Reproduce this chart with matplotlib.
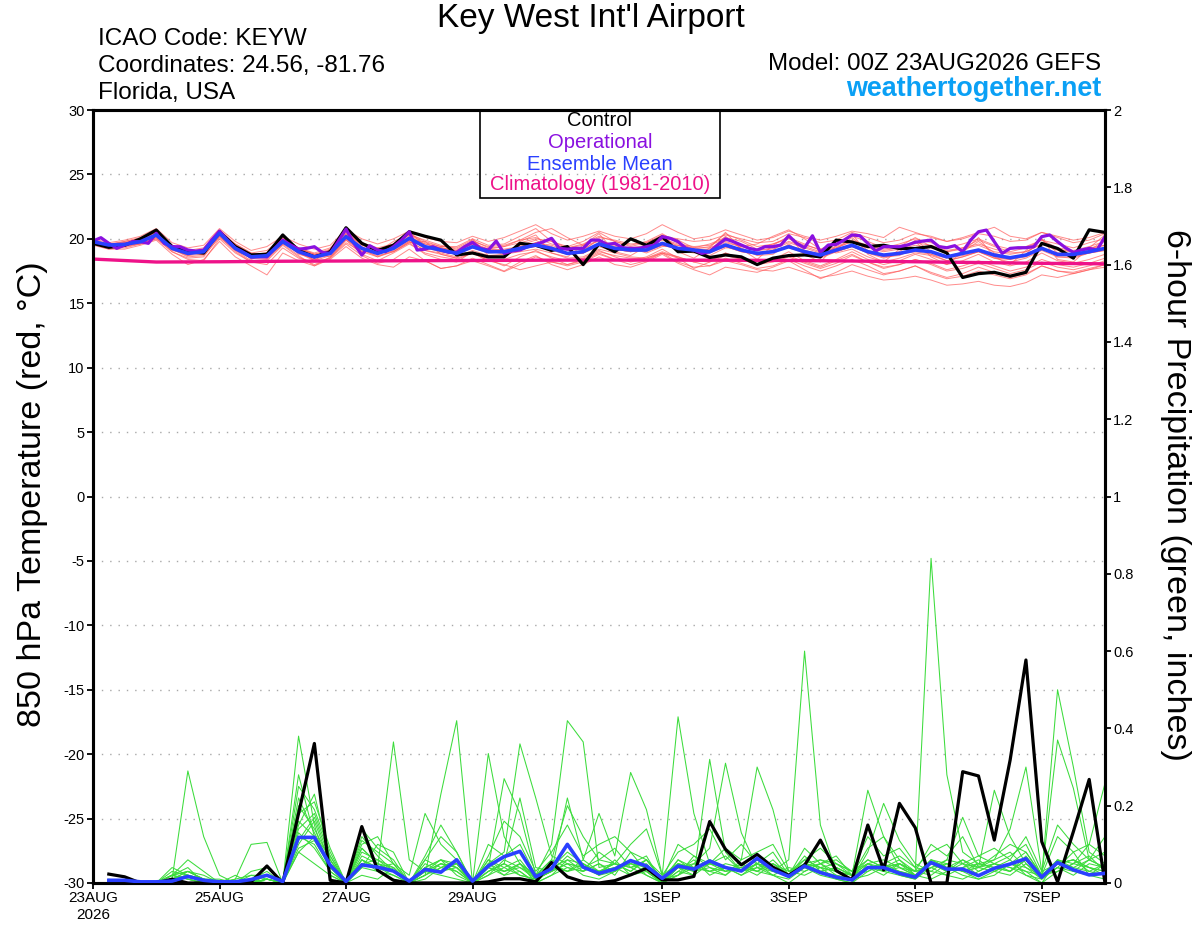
import numpy as np
import matplotlib
matplotlib.use("Agg")
import matplotlib.pyplot as plt
from matplotlib.patches import Rectangle

plt.rcParams['font.family'] = ['Liberation Sans', 'DejaVu Sans']


def vals(s):
    return [float(v) for v in s.split()]


# ---------------- data ----------------
hours_t = np.arange(0, 385, 6)      # temperature, 6-hourly
hours_op = np.arange(0, 385, 3)     # operational, 3-hourly
hours_p = np.arange(6, 385, 6)      # 6-hour precipitation
clim_hours = np.arange(0, 385, 24)  # daily climatology

xtick_hours = [0, 48, 96, 144, 216, 264, 312, 360]
xtick_labels = ["23AUG\n2026", "25AUG", "27AUG", "29AUG", "1SEP", "3SEP", "5SEP", "7SEP"]

control_temp = vals("""
19.65 19.34 19.5 20.0 20.68 19.4 19.0 18.9
20.55 19.4 18.75 18.8 20.3 19.1 18.6 19.0
20.86 19.65 19.1 19.5 20.55 20.2 19.9 18.75
18.9 18.6 18.6 19.65 19.5 19.1 19.4 18.0
19.6 19.0 20.0 19.5 20.15 19.0 19.05 18.55
18.75 18.6 18.0 18.5 18.7 18.75 18.6 19.9
19.75 19.4 19.5 19.25 19.25 19.4 18.9 17.0
17.3 17.4 17.1 17.4 19.65 19.25 18.5 20.7
20.5""")

operational_temp = vals("""
19.83 20.09 19.65 19.26 19.52 19.78 19.78 19.65 20.43 19.65 19.39 19.39 19.13 19.05 19.13 19.9
20.6 19.9 19.26 18.95 18.6 18.6 18.6 19.26 19.9 19.52 19.2 19.26 19.39 18.95 18.87 19.78
20.76 19.65 18.74 19.47 19.13 19.0 19.39 19.9 20.55 19.13 19.2 19.39 19.13 18.95 18.95 19.39
19.73 19.26 19.13 19.83 18.87 19.05 19.13 19.39 19.57 19.78 20.04 19.26 19.2 19.26 19.26 19.9
19.9 19.57 19.65 19.31 19.26 19.26 19.39 19.52 20.17 20.04 19.78 19.26 19.13 18.87 19.0 19.52
19.99 19.78 19.52 19.26 19.13 19.39 19.39 19.52 20.24 19.65 19.31 20.24 18.95 19.52 19.57 19.9
20.3 20.24 19.65 19.05 19.39 19.39 19.39 19.52 19.73 19.83 19.9 19.39 19.31 19.47 19.0 19.9
20.55 20.68 19.78 18.87 19.26 19.31 19.31 19.39 20.17 20.3 19.78 19.31 18.95 19.13 19.26 19.13
20.17""")

mean_temp = vals("""
19.78 19.52 19.57 19.78 20.3 19.26 18.87 19.0
20.43 19.26 18.6 18.69 19.78 19.0 18.6 18.87
20.17 19.26 18.87 19.26 20.04 19.39 19.13 18.87
19.39 19.0 19.0 19.26 19.52 19.26 18.87 19.0
19.6 19.26 19.13 19.13 19.65 19.26 19.13 19.0
19.52 19.13 18.87 19.0 19.39 19.0 18.74 19.13
19.5 19.0 18.74 18.87 19.13 19.0 18.6 18.87
19.13 18.74 18.53 18.74 19.26 18.79 18.79 19.0
19.26""")

climatology_temp = vals("18.43 18.2 18.22 18.26 18.28 18.3 18.32 18.34 18.35 18.35 18.34 18.32 18.28 18.22 18.16 18.1 18.06")

member_temps = [vals(s) for s in [
    """19.9 19.4 19.7 20.0 20.5 19.2 18.7 19.1 20.6 19.5 18.4 18.9 20.1 19.2 18.3 19.2
       20.5 19.6 19.0 19.8 20.3 19.9 19.5 19.2 19.8 19.4 19.5 19.9 20.1 19.6 19.3 19.6
       20.2 19.8 19.4 19.7 20.3 19.9 19.3 19.6 20.1 19.8 19.2 19.6 20.0 19.5 19.2 19.7
       20.2 19.8 19.3 19.6 20.0 19.7 19.3 19.6 20.0 19.5 19.2 19.4 19.9 19.6 19.3 19.7 20.0""",
    """19.6 19.3 19.3 19.6 20.1 19.0 18.5 18.6 20.2 19.0 18.2 18.3 19.5 18.6 18.0 18.5
       19.9 18.8 18.3 18.9 19.6 18.9 18.6 18.4 18.9 18.3 18.4 18.8 19.0 18.6 18.3 18.5
       19.1 18.6 18.2 18.5 19.0 18.6 18.2 18.3 18.9 18.4 18.0 18.3 18.7 18.2 17.8 18.3
       18.8 18.2 17.7 18.0 18.4 18.1 17.6 17.9 18.3 17.9 17.5 17.8 18.4 18.0 17.8 18.1 18.5""",
    """19.7 19.6 19.5 19.9 20.4 19.4 19.0 18.8 20.3 19.6 18.9 18.5 19.6 19.3 18.8 18.6
       20.0 19.0 19.3 19.0 19.7 19.8 18.8 18.5 20.0 18.7 18.6 19.8 20.3 18.9 18.6 19.5
       20.4 19.0 18.7 19.4 20.2 19.0 18.5 19.3 20.5 19.2 18.4 19.5 20.2 18.8 18.2 19.5
       20.4 18.8 18.2 19.2 19.8 18.6 18.0 19.0 20.1 18.6 18.0 19.1 20.0 18.4 18.2 19.3 20.3""",
    """19.5 19.2 19.4 19.7 20.2 19.1 18.8 18.9 20.3 19.1 18.5 18.6 19.7 18.9 18.4 18.8
       20.0 19.2 18.6 19.1 19.8 19.1 18.9 18.6 19.1 18.7 18.8 19.0 19.2 18.9 18.5 18.6
       19.2 18.9 18.6 18.5 18.9 18.6 18.2 17.9 18.3 18.0 17.6 17.5 17.8 17.4 17.0 17.2
       17.5 17.1 16.8 16.9 17.1 16.8 16.4 16.5 16.7 16.4 16.3 16.6 17.2 17.0 17.3 17.6 17.8""",
    """19.9 19.6 19.8 20.1 20.6 19.5 19.1 19.3 20.7 19.6 18.9 19.1 20.1 19.3 18.9 19.3
       20.6 19.7 19.3 19.6 20.4 19.8 19.4 19.3 19.9 19.3 19.4 19.7 20.0 19.8 19.3 19.5
       20.1 19.9 19.6 19.7 20.2 20.0 19.8 19.9 20.3 20.0 19.7 19.8 20.4 20.1 19.7 19.9
       20.5 20.1 19.7 19.9 20.4 20.2 19.8 20.0 20.4 20.2 19.8 19.9 20.5 20.1 19.7 19.9 20.4""",
    """19.8 19.4 19.6 19.7 20.1 19.4 19.0 18.9 20.2 19.2 18.7 18.8 19.9 18.8 18.5 19.0
       20.1 19.4 18.8 19.4 20.1 19.2 19.3 19.0 19.6 19.1 18.8 19.2 19.7 19.4 18.8 18.9
       19.4 19.0 19.3 18.9 19.4 19.5 19.0 18.7 19.3 19.3 18.7 18.8 19.6 18.8 18.5 19.0
       19.4 18.9 18.6 18.7 19.3 18.8 18.3 18.6 19.0 18.5 18.4 18.8 19.4 18.6 18.5 18.9 19.1""",
    """19.7 19.5 19.5 19.6 20.0 19.2 18.6 18.7 20.1 19.1 18.3 18.4 19.6 18.7 17.9 18.6
       19.7 19.0 18.6 19.0 19.7 18.8 18.4 18.2 19.0 18.4 17.9 18.6 19.1 18.5 18.0 18.3
       18.9 18.4 18.3 18.6 19.2 18.5 17.7 18.2 18.9 18.5 18.1 18.4 19.0 18.3 17.9 18.4
       19.0 18.4 18.0 18.3 18.8 18.4 18.0 18.3 18.8 18.2 17.9 18.2 18.9 18.3 18.1 18.4 18.8""",
    """19.9 19.6 19.7 19.9 20.4 19.4 18.9 19.1 20.5 19.4 18.7 18.9 20.0 19.1 18.7 19.0
       20.3 19.5 19.1 19.5 20.2 19.6 19.3 19.1 19.7 19.2 19.4 19.9 20.5 20.8 20.1 19.5
       19.8 19.4 19.3 19.5 20.0 19.6 19.4 19.5 20.0 19.5 19.1 19.3 19.8 19.4 19.0 19.3
       19.8 19.4 19.1 19.3 19.7 19.5 19.1 19.3 19.6 19.2 18.9 19.0 19.6 19.2 19.0 19.2 19.5""",
    """19.6 19.5 19.5 19.8 20.2 19.3 18.9 18.9 20.4 19.2 18.6 18.6 19.7 19.0 18.7 18.9
       20.1 19.3 18.9 19.2 19.9 19.3 19.0 18.8 19.3 19.0 19.1 19.2 19.4 19.2 18.8 18.9
       19.5 19.3 19.2 19.0 19.5 19.2 19.0 18.9 19.4 19.0 18.8 19.1 19.3 18.9 18.6 19.0
       19.4 18.9 18.5 18.8 19.0 18.8 18.5 18.7 19.0 18.5 18.2 18.5 19.1 18.6 18.6 18.9 19.2""",
    """19.7 19.4 19.5 19.7 20.2 19.2 18.7 18.8 20.3 19.3 18.5 18.5 19.7 18.9 18.3 18.7
       19.9 19.1 18.7 19.0 19.8 19.1 18.8 18.5 18.9 18.3 18.0 17.6 17.9 18.2 18.0 18.4
       19.0 18.7 18.5 18.4 18.9 18.5 18.3 18.2 18.7 18.4 18.0 18.2 18.6 18.1 17.7 18.1
       18.7 18.2 17.8 18.0 18.4 18.0 17.5 17.7 18.1 17.7 17.3 17.6 18.2 17.8 17.6 17.9 18.3""",
    """19.8 19.6 19.6 19.9 20.3 19.5 19.0 19.2 20.5 19.5 18.8 18.9 19.9 19.2 18.8 19.1
       20.3 19.6 19.2 19.4 20.1 19.6 19.3 19.1 19.6 19.2 19.1 19.4 19.7 19.5 19.1 19.2
       19.9 19.5 19.2 19.4 19.9 19.5 19.3 19.3 19.8 19.4 19.1 19.2 19.7 19.3 18.9 19.3
       19.8 19.3 19.0 19.2 19.5 19.3 19.0 19.2 19.5 19.0 18.8 19.0 19.6 19.1 19.0 19.3 19.5""",
    """19.8 19.5 19.8 20.0 20.7 19.3 19.0 19.1 20.6 19.3 18.7 18.8 20.3 19.1 18.6 18.9
       20.4 19.3 19.0 19.4 20.6 19.4 19.2 19.0 19.6 19.1 19.0 19.5 19.9 19.2 18.9 19.1
       20.0 19.2 19.0 19.2 20.3 19.3 19.0 19.1 20.2 19.2 18.8 19.1 20.1 19.1 18.8 19.2
       20.1 19.1 18.7 19.0 19.9 19.0 18.6 19.0 19.8 18.9 18.5 18.8 20.0 18.9 18.7 19.1 19.9""",
    """19.7 19.4 19.6 19.8 20.2 19.3 18.8 19.0 20.4 19.2 18.6 18.7 19.8 19.0 18.7 18.8
       20.1 19.2 18.8 19.2 19.9 19.4 19.0 18.8 19.4 19.1 19.2 19.4 19.6 19.1 18.8 19.0
       19.6 19.2 19.0 19.3 19.7 19.1 18.9 19.0 19.4 19.0 18.8 19.0 19.5 19.1 18.8 19.0
       19.4 19.0 18.6 18.8 19.2 19.0 18.6 18.8 19.2 18.8 18.5 18.7 19.3 18.9 18.8 19.0 19.2""",
    """19.8 19.5 19.5 19.8 20.3 19.3 18.9 19.0 20.4 19.3 18.7 18.7 19.8 19.0 18.6 18.9
       20.2 19.3 18.9 19.3 20.0 19.4 19.1 18.9 19.3 18.9 19.0 19.3 19.4 19.3 18.9 18.9
       19.6 19.2 19.0 19.1 19.5 19.3 19.1 19.2 19.7 19.4 19.6 20.2 20.7 20.0 19.2 18.9
       19.2 18.6 18.2 18.5 18.9 18.7 18.3 18.6 19.0 18.6 18.4 18.6 19.2 18.8 18.7 18.9 19.1""",
    """19.6 19.2 19.2 19.5 19.9 18.8 18.0 18.4 19.8 18.6 17.9 17.2 18.9 18.3 17.9 18.4
       19.4 18.5 18.0 17.8 18.6 18.3 17.7 17.9 18.5 18.0 17.5 18.2 18.7 18.0 17.6 18.0
       18.6 18.0 17.8 18.2 18.8 18.1 17.6 17.2 17.8 17.6 17.4 17.8 18.3 17.6 16.9 17.4
       18.0 17.6 17.2 17.5 17.9 17.4 17.0 17.3 17.8 17.4 17.0 17.3 17.9 17.5 17.4 17.7 18.0""",
    """20.0 19.7 19.9 20.2 20.8 19.7 19.3 19.5 20.8 19.8 19.1 19.4 20.2 19.6 19.2 19.5
       20.7 20.0 19.6 20.0 20.6 20.1 19.8 19.7 20.2 19.8 20.1 20.6 21.1 20.4 19.9 20.2
       20.6 20.2 20.0 20.4 21.1 20.5 20.0 20.2 20.7 20.3 19.9 20.1 20.6 20.2 19.9 20.2
       20.6 20.4 20.1 20.9 20.5 20.1 19.8 20.1 20.5 20.9 20.2 20.0 20.5 20.2 19.9 20.1 20.5""",
    """19.7 19.3 19.4 19.6 20.0 19.0 18.4 18.3 20.0 18.9 18.2 18.0 19.3 18.5 18.2 18.5
       19.6 18.7 18.1 18.4 19.2 18.3 17.7 17.9 18.3 17.9 17.45 18.0 18.6 18.2 17.9 18.2
       18.8 18.4 18.0 18.3 18.9 18.2 17.8 17.9 18.5 18.1 17.7 17.9 18.4 17.9 17.5 17.9
       18.4 17.9 17.3 17.5 17.9 17.3 16.9 17.1 17.5 17.2 16.9 17.2 17.9 17.5 17.3 17.6 18.0""",
    """19.8 19.5 19.7 19.9 20.5 19.2 18.9 18.8 20.5 19.4 18.8 18.9 20.0 19.3 18.8 19.2
       20.4 19.6 19.0 19.6 20.3 19.7 19.4 19.4 20.0 19.5 19.6 20.2 20.8 19.8 19.4 19.8
       20.5 19.8 19.5 19.8 20.4 19.7 19.2 19.4 20.4 19.9 19.4 19.6 20.1 19.6 19.1 19.4
       19.9 19.5 19.2 19.4 20.1 19.4 19.0 19.3 19.9 19.4 19.0 19.3 19.9 19.3 19.1 19.4 19.8""",
]]

control_precip = vals("""
0.023 0.016 0 0 0.01 0 0 0.003
0 0.003 0.044 0 0.18 0.361 0.007 0
0.146 0.033 0.007 0 0 0 0 0
0.003 0.011 0.011 0.003 0.053 0.016 0.003 0
0.006 0.021 0.038 0.008 0.008 0.017 0.159 0.087
0.047 0.074 0.041 0.020 0.046 0.111 0.032 0.008
0.150 0.034 0.206 0.143 0 0 0.288 0.277
0.111 0.318 0.577 0.107 0.003 0.133 0.268 0""")

mean_precip = vals("""
0.007 0.007 0.003 0.003 0.005 0.017 0.007 0.003
0.003 0.009 0.02 0.004 0.118 0.118 0.046 0.004
0.047 0.041 0.031 0.005 0.035 0.028 0.06 0.005
0.044 0.068 0.082 0.016 0.037 0.1 0.041 0.025
0.036 0.058 0.044 0.012 0.044 0.036 0.057 0.040
0.031 0.064 0.034 0.017 0.044 0.027 0.015 0.008
0.040 0.040 0.025 0.015 0.053 0.036 0.036 0.019
0.038 0.049 0.063 0.015 0.053 0.034 0.021 0.025""")

member_precips = [vals(s) for s in [
    """0 0 0 0 0.01 0.29 0.12 0.02  0 0 0.01 0 0.08 0.05 0.02 0
       0.04 0.03 0.01 0 0.02 0.05 0.03 0  0.02 0.04 0.06 0.01 0.03 0.05 0.02 0.01
       0.03 0.06 0.02 0 0.04 0.02 0.32 0.08  0.03 0.05 0.02 0.01 0.04 0.02 0.01 0
       0.05 0.03 0.02 0.01 0.06 0.04 0.02 0.01  0.03 0.02 0.05 0.01 0.04 0.08 0.02 0.01""",
    """0 0 0 0 0.03 0.02 0 0  0.01 0.10 0.105 0 0.12 0.10 0.03 0
       0.02 0.01 0.04 0 0.03 0.02 0.01 0  0.05 0.02 0.03 0 0.02 0.06 0.03 0.08
       0.05 0.03 0.06 0.01 0.02 0.05 0.09 0.31  0.13 0.04 0.02 0 0.03 0.05 0.02 0.01
       0.02 0.04 0.06 0.02 0.01 0.03 0.05 0.02  0.04 0.06 0.02 0 0.03 0.05 0.07 0.03""",
    """0.01 0 0 0 0.02 0.03 0.01 0  0 0.01 0.02 0 0.38 0.15 0.02 0
       0.06 0.03 0.02 0 0.01 0.04 0.06 0  0.03 0.05 0.02 0.01 0.04 0.08 0.05 0.02
       0.06 0.02 0.04 0 0.05 0.03 0.04 0.02  0.06 0.30 0.19 0.03 0.02 0.04 0.01 0
       0.03 0.05 0.02 0.01 0.04 0.02 0.01 0.03  0.05 0.03 0.06 0.02 0.04 0.02 0.05 0.04""",
    """0 0 0 0 0.01 0.02 0.01 0  0 0 0.01 0 0.25 0.19 0.08 0
       0.09 0.05 0.03 0 0.04 0.06 0.02 0  0.06 0.03 0.05 0 0.02 0.04 0.03 0.05
       0.02 0.08 0.03 0 0.03 0.06 0.02 0.04  0.02 0.05 0.03 0.06 0.60 0.15 0.03 0.01
       0.04 0.02 0.05 0.03 0.02 0.05 0.03 0.01  0.02 0.05 0.03 0 0.06 0.03 0.02 0.05""",
    """0 0 0 0 0.02 0.01 0 0  0 0 0 0 0.15 0.23 0.06 0
       0.12 0.07 0.03 0 0.05 0.03 0.04 0  0.02 0.06 0.04 0.02 0.05 0.03 0.06 0.03
       0.04 0.05 0.07 0 0.02 0.04 0.06 0.03  0.04 0.02 0.05 0.03 0.05 0.06 0.04 0.02
       0.24 0.12 0.04 0.02 0.05 0.03 0.06 0.04  0.06 0.08 0.04 0.01 0.05 0.06 0.03 0.02""",
    """0 0 0 0 0.01 0.03 0.02 0  0 0.01 0.03 0 0.10 0.16 0.05 0
       0.14 0.09 0.06 0 0.02 0.04 0.03 0  0.04 0.02 0.05 0.01 0.03 0.07 0.04 0.06
       0.09 0.04 0.05 0.01 0.06 0.03 0.05 0.07  0.03 0.06 0.04 0.02 0.07 0.03 0.02 0.01
       0.08 0.206 0.11 0.05 0.03 0.02 0.04 0.06  0.03 0.05 0.08 0.02 0.05 0.04 0.06 0.08""",
    """0 0 0 0 0.02 0.04 0 0  0 0 0.02 0 0.08 0.12 0.04 0
       0.05 0.04 0.365 0.06 0.03 0.05 0.04 0  0.03 0.05 0.03 0 0.04 0.06 0.05 0.02
       0.04 0.02 0.03 0 0.05 0.04 0.03 0.02  0.05 0.03 0.02 0.04 0.03 0.05 0.06 0.03
       0.05 0.06 0.04 0.03 0.84 0.28 0.08 0.05  0.04 0.03 0.07 0.02 0.03 0.05 0.04 0.03""",
    """0 0 0 0 0.01 0.02 0 0  0 0 0.01 0 0.18 0.21 0.09 0
       0.08 0.06 0.04 0 0.02 0.23 0.42 0  0.06 0.04 0.02 0.01 0.05 0.03 0.04 0.02
       0.03 0.05 0.04 0 0.03 0.02 0.05 0.04  0.02 0.04 0.03 0.02 0.06 0.04 0.03 0.02
       0.03 0.05 0.07 0.04 0.03 0.06 0.17 0.07  0.05 0.04 0.02 0.01 0.06 0.04 0.03 0.05""",
    """0 0 0 0 0.02 0.01 0 0  0.02 0 0.01 0 0.13 0.09 0.03 0
       0.06 0.04 0.02 0 0.07 0.15 0.08 0  0.335 0.12 0.05 0.02 0.04 0.03 0.05 0.03
       0.05 0.03 0.06 0.01 0.04 0.05 0.03 0.04  0.03 0.05 0.04 0.02 0.05 0.04 0.05 0.03
       0.06 0.04 0.05 0.03 0.04 0.06 0.05 0.04  0.24 0.12 0.05 0.02 0.04 0.03 0.06 0.04""",
    """0 0 0 0 0.01 0.02 0.01 0  0 0.01 0.02 0 0.20 0.14 0.06 0
       0.11 0.08 0.05 0 0.04 0.06 0.05 0  0.04 0.27 0.18 0.02 0.06 0.04 0.03 0.05
       0.03 0.06 0.04 0 0.02 0.07 0.04 0.03  0.05 0.03 0.06 0.02 0.04 0.03 0.04 0.02
       0.04 0.03 0.05 0.02 0.06 0.04 0.03 0.05  0.06 0.14 0.30 0.03 0.05 0.06 0.04 0.02""",
    """0 0 0 0 0.02 0.03 0.01 0  0 0 0.01 0 0.16 0.12 0.05 0
       0.07 0.05 0.03 0 0.06 0.04 0.05 0  0.05 0.08 0.36 0.22 0.07 0.05 0.04 0.03
       0.04 0.05 0.03 0 0.06 0.04 0.05 0.03  0.04 0.06 0.03 0.02 0.05 0.03 0.04 0.02
       0.05 0.04 0.03 0.02 0.04 0.05 0.03 0.04  0.05 0.07 0.10 0.02 0.50 0.30 0.08 0.05""",
    """0 0 0 0 0.01 0.02 0 0  0.01 0.02 0.02 0 0.11 0.17 0.06 0
       0.09 0.05 0.04 0 0.03 0.05 0.04 0  0.04 0.03 0.05 0.02 0.10 0.42 0.365 0.04
       0.05 0.04 0.02 0 0.04 0.03 0.06 0.04  0.03 0.04 0.05 0.02 0.04 0.05 0.03 0.02
       0.04 0.05 0.03 0.02 0.05 0.03 0.04 0.05  0.04 0.03 0.06 0.02 0.37 0.245 0.06 0.04""",
    """0 0 0 0 0.02 0.01 0 0  0 0 0.01 0 0.14 0.18 0.07 0
       0.05 0.06 0.03 0 0.04 0.03 0.05 0  0.03 0.05 0.22 0.04 0.03 0.22 0.06 0.18
       0.07 0.286 0.19 0.02 0.05 0.04 0.03 0.05  0.04 0.03 0.05 0.02 0.04 0.06 0.05 0.02
       0.06 0.04 0.05 0.03 0.05 0.04 0.06 0.03  0.05 0.04 0.03 0.02 0.05 0.06 0.04 0.03""",
    """0 0 0 0 0.01 0.03 0.01 0  0 0.01 0 0 0.09 0.11 0.04 0
       0.06 0.04 0.05 0 0.03 0.06 0.04 0  0.05 0.03 0.04 0.01 0.03 0.05 0.04 0.03
       0.05 0.04 0.06 0.02 0.43 0.18 0.05 0.04  0.03 0.05 0.04 0.02 0.05 0.04 0.03 0.02
       0.05 0.03 0.04 0.02 0.06 0.05 0.03 0.04  0.03 0.05 0.04 0.02 0.06 0.05 0.10 0.258""",
    """0 0 0 0 0.02 0.06 0.03 0  0 0.03 0.04 0 0.22 0.13 0.05 0
       0.10 0.12 0.05 0.02 0.18 0.10 0.06 0  0.07 0.16 0.12 0.03 0.08 0.15 0.07 0.10
       0.12 0.08 0.06 0.01 0.10 0.07 0.05 0.09  0.06 0.08 0.10 0.03 0.06 0.09 0.05 0.03
       0.12 0.07 0.09 0.04 0.08 0.10 0.05 0.07  0.09 0.06 0.12 0.03 0.15 0.10 0.06 0.12""",
    """0 0 0 0 0.04 0.02 0.01 0.01  0 0.02 0.01 0 0.28 0.12 0.07 0
       0.04 0.10 0.08 0 0.06 0.12 0.08 0  0.10 0.07 0.10 0.02 0.06 0.20 0.12 0.06
       0.05 0.10 0.14 0.02 0.08 0.10 0.14 0.06  0.10 0.05 0.08 0.02 0.09 0.05 0.07 0.02
       0.09 0.12 0.06 0.03 0.10 0.07 0.12 0.04  0.07 0.10 0.08 0.02 0.12 0.08 0.10 0.07""",
]]

# ---------------- styles ----------------
C_CONTROL = "#000000"
C_OPER = "#8a10e0"
C_MEAN = "#2a40ff"
C_CLIM = "#ee1289"
C_MEMB_T = "#ff5a5a"
C_MEMB_P = "#3cdc3c"
C_SITE = "#0aa0f5"

W, H = 1200, 927
fig = plt.figure(figsize=(W / 100, H / 100), dpi=100)


def fx(px):
    return px / W


def fy(py):
    return 1 - py / H


ax = fig.add_axes([fx(93), fy(883), fx(1105) - fx(93), fy(110) - fy(883)])
ax2 = ax.twinx()

# temperature
for m in member_temps:
    ax.plot(hours_t, m, color=C_MEMB_T, lw=0.7, alpha=0.7, zorder=2)
ax.plot(clim_hours, climatology_temp, color=C_CLIM, lw=2.4, zorder=3)
ax.plot(hours_t, control_temp, color=C_CONTROL, lw=2.3, zorder=4)
ax.plot(hours_op, operational_temp, color=C_OPER, lw=2.3, zorder=5)
ax.plot(hours_t, mean_temp, color=C_MEAN, lw=2.6, zorder=6)

# precipitation
for m in member_precips:
    ax2.plot(hours_p, m, color=C_MEMB_P, lw=0.75, zorder=2)
ax2.plot(hours_p, control_precip, color=C_CONTROL, lw=2.3, zorder=4)
ax2.plot(hours_p, mean_precip, color=C_MEAN, lw=2.6, zorder=5)

ax.set_xlim(0, 384)
ax.set_ylim(-30, 30)
ax2.set_ylim(0, 2)

ax.set_yticks(np.arange(-30, 31, 5))
ax.set_yticklabels([f"{v:d}" for v in range(-30, 31, 5)])
ax2.set_yticks(np.round(np.arange(0, 2.01, 0.2), 1))
ax2.set_yticklabels([f"{v:g}" for v in np.round(np.arange(0, 2.01, 0.2), 1)])
ax.set_xticks(xtick_hours)
ax.set_xticklabels(xtick_labels)

for g in range(-25, 26, 5):
    ax.axhline(g, color="#a8a8a8", lw=1.0, ls=(0, (1, 5)), zorder=1)

for a in (ax, ax2):
    for s in a.spines.values():
        s.set_linewidth(2.2)
    a.tick_params(direction="out", length=4, width=1.3, labelsize=10.5, pad=2)
ax.tick_params(axis="x", labelsize=11, pad=2)

# header texts
fig.text(fx(591), fy(19), "Key West Int'l Airport", ha="center", va="center", fontsize=24)
for txt, yy in [("ICAO Code: KEYW", 39), ("Coordinates: 24.56, -81.76", 66), ("Florida, USA", 93)]:
    fig.text(fx(98), fy(yy), txt, ha="left", va="center", fontsize=17.5)
fig.text(fx(1101), fy(64), "Model: 00Z 23AUG2026 GEFS", ha="right", va="center", fontsize=17.4)
fig.text(fx(1101), fy(89), "weathertogether.net", ha="right", va="center", fontsize=19.4,
         fontweight="bold", color=C_SITE)

# legend box
fig.patches.append(Rectangle((fx(480), fy(198)), fx(720) - fx(480), fy(110) - fy(198),
                             transform=fig.transFigure, fill=False, edgecolor="black",
                             lw=1.2, zorder=10))
for txt, col, yy in [("Control", C_CONTROL, 121), ("Operational", C_OPER, 142),
                     ("Ensemble Mean", C_MEAN, 164), ("Climatology (1981-2010)", C_CLIM, 185)]:
    fig.text(fx(600), fy(yy), txt, ha="center", va="center", fontsize=14.5, color=col)

# axis titles
fig.text(fx(33), fy(494), "850 hPa Temperature (red, \u00b0C)", rotation=90,
         ha="center", va="center", fontsize=24.5)
fig.text(fx(1175), fy(495), "6-hour Precipitation (green, inches)", rotation=270,
         ha="center", va="center", fontsize=24.5)

fig.savefig("out.png", dpi=100)
